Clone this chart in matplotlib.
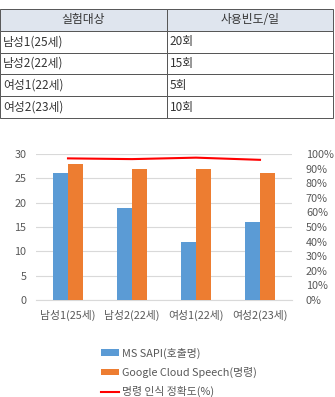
import numpy as np
import matplotlib.pyplot as plt
from matplotlib.ticker import PercentFormatter

plt.rcParams['font.family'] = ['Noto Sans CJK KR', 'DejaVu Sans']

subjects = ['남성1(25세)', '남성2(22세)', '여성1(22세)', '여성2(23세)']
usage = ['20회', '15회', '5회', '10회']
ms_sapi = [26, 19, 12, 16]
google = [28, 27, 27, 26]
accuracy = [97, 96.5, 97.5, 96]

fig = plt.figure(figsize=(3.35, 3.97), dpi=100)

# table
tax = fig.add_axes([0, 0, 1, 1])
tax.axis('off')
cells = [[s, u] for s, u in zip(subjects, usage)]
tbl = tax.table(cellText=cells, colLabels=['실험대상', '사용빈도/일'],
                bbox=[0.0, (397 - 118) / 397, 333 / 335, 109 / 397],
                cellLoc='left', colLoc='center')
tbl.auto_set_font_size(False)
for (r, c), cell in tbl.get_celld().items():
    cell.set_edgecolor('#555555')
    cell.set_linewidth(0.7)
    cell.get_text().set_fontsize(8.5)
    cell.get_text().set_color('#333333')
    cell.PAD = 0.02
    if r == 0:
        cell.set_facecolor('#dfe5ee')

# chart
ax = fig.add_axes([36 / 335, (397 - 300) / 397, 256 / 335, 146 / 397])
x = np.arange(len(subjects))
w = 0.24
ax.bar(x - w / 2, ms_sapi, w, color='#5b9bd5', label='MS SAPI(호출명)', zorder=3)
ax.bar(x + w / 2, google, w, color='#ed7d31', label='Google Cloud Speech(명령)', zorder=3)
ax.set_xlim(-0.5, 3.5)
ax.set_ylim(0, 30)
ax.set_yticks(range(0, 31, 5))
ax.yaxis.grid(True, color='#d9d9d9', linewidth=0.8, zorder=0)
ax.set_xticks(x)
ax.set_xticklabels(subjects)
for s in ['top', 'right', 'left']:
    ax.spines[s].set_visible(False)
ax.spines['bottom'].set_color('#d9d9d9')
ax.tick_params(length=0, labelsize=7.8, colors='#595959', pad=7)

ax2 = ax.twinx()
ax2.plot(x, accuracy, color='#ff0000', linewidth=1.5, label='명령 인식 정확도(%)')
ax2.set_ylim(0, 100)
ax2.set_yticks(range(0, 101, 10))
ax2.yaxis.set_major_formatter(PercentFormatter(decimals=0))
for s in ['top', 'right', 'left', 'bottom']:
    ax2.spines[s].set_visible(False)
ax2.tick_params(length=0, labelsize=7.8, colors='#595959', pad=10)

h1, l1 = ax.get_legend_handles_labels()
h2, l2 = ax2.get_legend_handles_labels()
fig.legend(h1 + h2, l1 + l2, loc='upper left', bbox_to_anchor=(96 / 335, 1 - 342 / 397),
           frameon=False, fontsize=7.8, labelcolor='#595959',
           handlelength=1.6, handleheight=0.5, handletextpad=0.3, labelspacing=0.75,
           borderpad=0)

fig.savefig('out.png', dpi=100)
